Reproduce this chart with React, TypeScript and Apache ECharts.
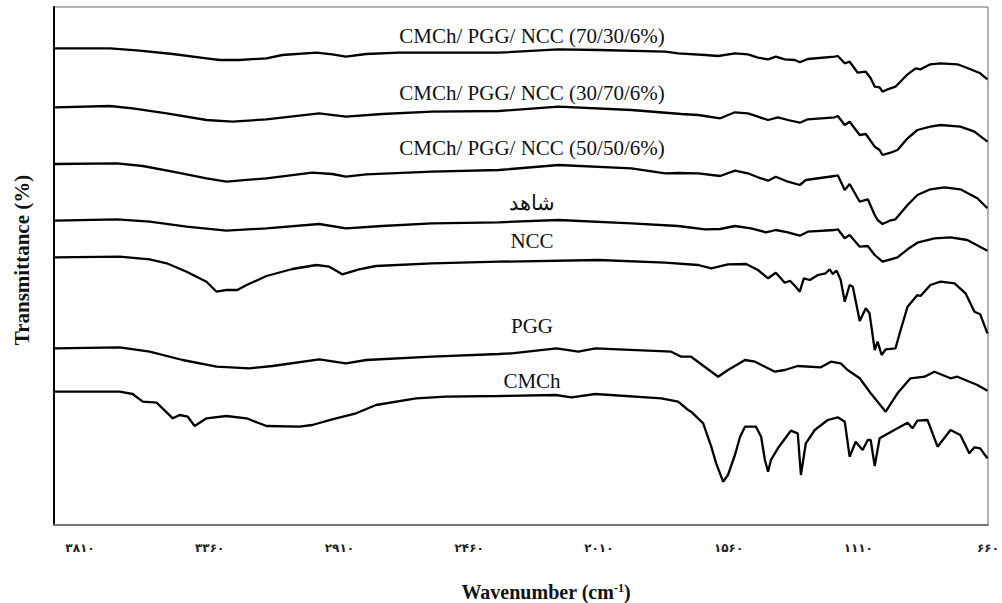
import React, { useEffect, useRef } from "react";
import * as echarts from "echarts";

// x axis tick values (cm-1) and their Persian-digit labels
const tickValues = [3810, 3360, 2910, 2460, 2010, 1560, 1110, 660];
const tickLabels = ["۳۸۱۰", "۳۳۶۰", "۲۹۱۰", "۲۴۶۰", "۲۰۱۰", "۱۵۶۰", "۱۱۱۰", "۶۶۰"];

const seriesNames = [
  "CMCh/ PGG/ NCC (70/30/6%)",
  "CMCh/ PGG/ NCC (30/70/6%)",
  "CMCh/ PGG/ NCC (50/50/6%)",
  "شاهد",
  "NCC",
  "PGG",
  "CMCh",
];

// [wavenumber, transmittance (offset, arbitrary units)]
const film7030: number[][] = [
  [3897, 476.7], [3706, 476.7], [3603, 474.3], [3488, 471], [3371, 466.7], [3326, 465], [3257, 465],
  [3163, 466.7], [3108, 470], [2990, 472.3], [2935, 470.7], [2887, 468.3], [2817, 471], [2703, 472.3],
  [2357, 472.3], [2150, 475.7], [2011, 475], [1780, 473.3], [1735, 471.7], [1641, 470], [1596, 469],
  [1538, 471.7], [1493, 470.7], [1458, 467.3], [1423, 465.7], [1396, 468.3], [1365, 465.7], [1330, 465],
  [1313, 462.7], [1285, 466], [1192, 468.3], [1181, 469], [1157, 461.7], [1140, 463.3], [1112, 452.3],
  [1084, 453.3], [1067, 446.7], [1053, 438.3], [1036, 437.7], [1026, 433.3], [1008, 435.7], [981, 438.3],
  [939, 450.7], [911, 456.7], [894, 455.7], [860, 460.7], [825, 461.7], [766, 460.7], [721, 455.7],
  [687, 451.7], [662, 445.7],
];

const film3070: number[][] = [
  [3897, 417.7], [3706, 419], [3627, 416.7], [3509, 411.7], [3371, 405], [3281, 403.3], [3163, 405.7],
  [2980, 411.7], [2887, 408.3], [2762, 411], [2589, 413.3], [2357, 414], [2150, 418.3], [1897, 415],
  [1724, 411], [1665, 410], [1589, 406.7], [1538, 412.7], [1493, 411.7], [1458, 408.3], [1423, 405],
  [1389, 407.7], [1354, 405], [1313, 402.3], [1285, 405.7], [1192, 407.7], [1181, 409], [1157, 400],
  [1140, 403.3], [1105, 390], [1084, 391], [1053, 378.3], [1036, 375], [1026, 370], [998, 372.3],
  [974, 375], [939, 386.7], [905, 395], [860, 398.3], [825, 400], [756, 398.3], [707, 393.3], [662, 383.3],
];

const film5050: number[][] = [
  [3897, 361], [3682, 361.7], [3592, 359], [3488, 353.3], [3371, 346.7], [3302, 343.3], [3163, 346.7],
  [3004, 352.3], [2935, 351], [2887, 348.3], [2817, 350.7], [2589, 353.3], [2357, 355], [2150, 360],
  [1897, 356.7], [1780, 351.7], [1735, 352], [1665, 351.7], [1589, 349], [1538, 354.3], [1493, 351.7],
  [1458, 347.7], [1423, 344.3], [1396, 348.3], [1354, 343.3], [1313, 340], [1292, 345], [1192, 349],
  [1181, 349.7], [1157, 335], [1140, 341], [1105, 323.3], [1077, 325.7], [1053, 310], [1043, 305],
  [1026, 301], [1001, 304.3], [981, 305.7], [939, 320], [905, 330], [860, 335.7], [811, 337.7],
  [756, 335.7], [697, 326.7], [662, 316.7],
];

const control: number[][] = [
  [3897, 304.3], [3682, 305.7], [3568, 303.3], [3440, 298.3], [3302, 294.3], [3163, 296.7], [2980, 301],
  [2887, 296.7], [2762, 299], [2589, 301.7], [2357, 302.7], [2150, 305], [1897, 301.7], [1735, 299],
  [1641, 295.7], [1589, 296], [1538, 299], [1482, 296.7], [1430, 292.7], [1396, 295], [1354, 292.7],
  [1313, 289.3], [1285, 293.3], [1192, 295], [1181, 295.7], [1157, 286.7], [1140, 290], [1105, 278.3],
  [1077, 279], [1053, 270], [1026, 263.3], [998, 265.7], [974, 267.7], [939, 275.7], [905, 282.3],
  [846, 286.7], [790, 287.7], [732, 285], [662, 274.3],
];

const ncc: number[][] = [
  [3897, 267.7], [3672, 268.3], [3568, 265.7], [3509, 261.7], [3440, 253.3], [3371, 243.3], [3336, 233.3],
  [3302, 235], [3264, 235], [3232, 240], [3163, 249], [3073, 256], [2990, 260], [2945, 258.3],
  [2900, 250.7], [2842, 255.7], [2783, 259], [2589, 261.7], [2357, 263.3], [2011, 265], [1780, 262.3],
  [1665, 260], [1620, 256.7], [1562, 260.7], [1499, 261], [1458, 255], [1423, 246.7], [1396, 252.3],
  [1365, 242.3], [1347, 244.3], [1327, 238.3], [1313, 233.3], [1299, 246.7], [1278, 245], [1250, 250],
  [1223, 251.7], [1209, 255.7], [1199, 251], [1185, 254.3], [1171, 245], [1157, 223.3], [1140, 240],
  [1129, 238.3], [1105, 204], [1084, 216.7], [1071, 211.7], [1053, 175], [1043, 183.3], [1029, 170],
  [1015, 175.7], [981, 176.7], [963, 195], [939, 218.3], [905, 230], [894, 229], [860, 240], [825, 243.3],
  [776, 241.7], [738, 231.7], [707, 213.3], [687, 210.7], [662, 191.7],
];

const pgg: number[][] = [
  [3897, 176.7], [3672, 177.7], [3568, 173.3], [3454, 165], [3336, 158.3], [3222, 156.7], [3142, 159],
  [2980, 165.7], [2887, 161.7], [2817, 165], [2589, 168.3], [2357, 171], [2312, 171.7], [2157, 176.7],
  [2081, 173.3], [2022, 176.7], [1759, 173.3], [1724, 168.3], [1690, 168.3], [1596, 148.3], [1562, 155],
  [1503, 165], [1468, 163.3], [1399, 153.3], [1365, 155], [1320, 159], [1240, 157.7], [1205, 163.3],
  [1171, 161.7], [1147, 155], [1105, 146.7], [1067, 131.7], [1015, 113.3], [974, 131.7], [929, 146.7],
  [880, 148.3], [846, 153.3], [790, 146.7], [766, 148.3], [697, 140], [662, 134.3],
];

const cmch: number[][] = [
  [3897, 133.3], [3672, 133.3], [3627, 131], [3592, 123.3], [3544, 122.3], [3488, 106.7], [3464, 110],
  [3436, 108.3], [3412, 99], [3371, 106.7], [3302, 109], [3232, 106.7], [3163, 99], [3049, 98.3],
  [3004, 100], [2935, 105.7], [2852, 111.7], [2783, 120], [2644, 126.7], [2541, 128.3], [2357, 129],
  [2160, 130], [2105, 127.7], [2022, 131], [1793, 126.7], [1735, 123.3], [1700, 115], [1690, 113.3],
  [1648, 101.7], [1620, 78.3], [1603, 61.7], [1579, 43.3], [1562, 50], [1538, 70], [1520, 88.3],
  [1503, 98.3], [1465, 98.3], [1447, 88.3], [1434, 65], [1423, 53.3], [1413, 65], [1389, 76.7],
  [1344, 94.3], [1320, 91.7], [1309, 50], [1292, 81.7], [1261, 95], [1216, 105],
  [1181, 107.7], [1157, 103.3], [1140, 68.3], [1119, 83.3], [1095, 75], [1077, 85], [1067, 85],
  [1053, 59], [1036, 86.7], [974, 96.7], [939, 102.3], [922, 96.7], [905, 104.3], [870, 105],
  [835, 78.3], [790, 95], [756, 90], [725, 71.7], [707, 77.7], [687, 76.7], [662, 66.7],
];

const traces = [film7030, film3070, film5050, control, ncc, pgg, cmch];

const SERIF = "'Liberation Serif', 'Times New Roman', serif";

export default function App() {
  const ref = useRef<HTMLDivElement>(null);

  useEffect(() => {
    if (!ref.current) return;
    const chart = echarts.init(ref.current, undefined, { renderer: "svg" });
    const labelY = [36, 93, 148, 203, 241, 326, 381];
    chart.setOption({
      animation: false,
      backgroundColor: "#ffffff",
      grid: {
        left: 54,
        right: 11,
        top: 7,
        bottom: 78,
        show: true,
        borderColor: "#666",
        borderWidth: 1,
      },
      xAxis: {
        type: "value",
        min: 660,
        max: 3900,
        inverse: true,
        axisLine: { show: true, lineStyle: { color: "#777", width: 2 } },
        axisTick: { show: false },
        splitLine: { show: false },
        axisLabel: {
          customValues: tickValues,
          margin: 17,
          fontSize: 12,
          fontWeight: "bold",
          color: "#222",
          fontFamily: "'DejaVu Sans', sans-serif",
          formatter: (v: number) => {
            const i = tickValues.indexOf(v);
            return i >= 0 ? tickLabels[i] : "";
          },
        },
      },
      yAxis: {
        type: "value",
        min: 0,
        max: 518,
        axisLine: { show: true, lineStyle: { color: "#000", width: 2 } },
        axisTick: { show: false },
        axisLabel: { show: false },
        splitLine: { show: false },
      },
      series: traces.map((d, i) => ({
        name: seriesNames[i],
        type: "line",
        data: d,
        showSymbol: false,
        smooth: false,
        silent: true,
        lineStyle: { color: "#000", width: 2.3 },
      })),
      graphic: [
        ...seriesNames.map((n, i) => ({
          type: "text",
          x: 532,
          y: labelY[i],
          style: {
            text: n,
            fontFamily: SERIF,
            fontSize: 21,
            fill: "#111",
            textAlign: "center",
            verticalAlign: "middle",
          },
        })),
        {
          type: "text",
          x: 22,
          y: 260,
          rotation: Math.PI / 2,
          style: {
            text: "Transmittance (%)",
            fontFamily: SERIF,
            fontSize: 21,
            fontWeight: "bold",
            fill: "#111",
            textAlign: "center",
            verticalAlign: "middle",
          },
        },
        {
          type: "text",
          x: 546,
          y: 591,
          style: {
            text: "{a|Wavenumber (cm}{s|-1}{a|)}",
            textAlign: "center",
            verticalAlign: "middle",
            fill: "#111",
            rich: {
              a: { fontFamily: SERIF, fontSize: 20, fontWeight: "bold", fill: "#111", lineHeight: 22, verticalAlign: "bottom" },
              s: { fontFamily: SERIF, fontSize: 12, fontWeight: "bold", fill: "#111", lineHeight: 22, verticalAlign: "top", padding: [2, 0, 0, 0] },
            },
          },
        },
      ],
    });
    return () => chart.dispose();
  }, []);

  return (
    <div
      ref={ref}
      style={{ position: "fixed", left: 0, top: 0, width: 1002, height: 603, background: "#fff" }}
    />
  );
}
